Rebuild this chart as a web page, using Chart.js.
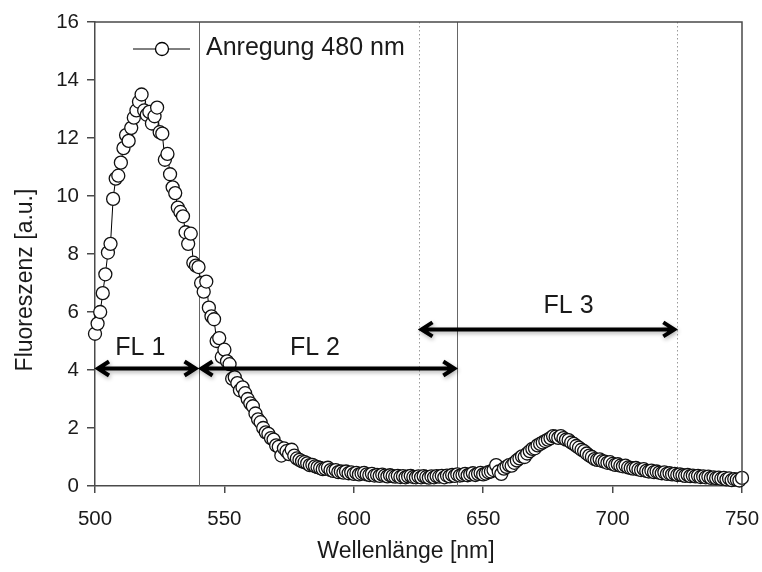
<!DOCTYPE html>
<html>
<head>
<meta charset="utf-8">
<script src="https://cdn.jsdelivr.net/npm/chart.js@4"></script>
<style>
  html, body { margin: 0; padding: 0; background: #fff; }
  #wrap { width: 762px; height: 572px; }
</style>
</head>
<body>
<div id="wrap"><canvas id="spectrum" width="762" height="572"></canvas></div>
<script>
// emission spectrum, excitation at 480 nm, one reading per nm
const wavelengths = [
  500, 501, 502, 503, 504, 505, 506, 507, 508, 509,
  510, 511, 512, 513, 514, 515, 516, 517, 518, 519,
  520, 521, 522, 523, 524, 525, 526, 527, 528, 529,
  530, 531, 532, 533, 534, 535, 536, 537, 538, 539,
  540, 541, 542, 543, 544, 545, 546, 547, 548, 549,
  550, 551, 552, 553, 554, 555, 556, 557, 558, 559,
  560, 561, 562, 563, 564, 565, 566, 567, 568, 569,
  570, 571, 572, 573, 574, 575, 576, 577, 578, 579,
  580, 581, 582, 583, 584, 585, 586, 587, 588, 589,
  590, 591, 592, 593, 594, 595, 596, 597, 598, 599,
  600, 601, 602, 603, 604, 605, 606, 607, 608, 609,
  610, 611, 612, 613, 614, 615, 616, 617, 618, 619,
  620, 621, 622, 623, 624, 625, 626, 627, 628, 629,
  630, 631, 632, 633, 634, 635, 636, 637, 638, 639,
  640, 641, 642, 643, 644, 645, 646, 647, 648, 649,
  650, 651, 652, 653, 654, 655, 656, 657, 658, 659,
  660, 661, 662, 663, 664, 665, 666, 667, 668, 669,
  670, 671, 672, 673, 674, 675, 676, 677, 678, 679,
  680, 681, 682, 683, 684, 685, 686, 687, 688, 689,
  690, 691, 692, 693, 694, 695, 696, 697, 698, 699,
  700, 701, 702, 703, 704, 705, 706, 707, 708, 709,
  710, 711, 712, 713, 714, 715, 716, 717, 718, 719,
  720, 721, 722, 723, 724, 725, 726, 727, 728, 729,
  730, 731, 732, 733, 734, 735, 736, 737, 738, 739,
  740, 741, 742, 743, 744, 745, 746, 747, 748, 749,
  750
];
const fluorescence = [
  5.25, 5.6, 6.0, 6.65, 7.3, 8.05, 8.35, 9.9, 10.6, 10.7,
  11.15, 11.65, 12.1, 11.9, 12.35, 12.7, 12.95, 13.25, 13.5, 12.95,
  12.8, 12.9, 12.5, 12.75, 13.05, 12.2, 12.15, 11.25, 11.45, 10.75,
  10.3, 10.1, 9.6, 9.45, 9.3, 8.75, 8.35, 8.7, 7.7, 7.6,
  7.55, 7.0, 6.7, 7.05, 6.15, 5.85, 5.75, 5.0, 5.1, 4.45,
  4.7, 4.3, 4.2, 3.7, 3.75, 3.55, 3.3, 3.4, 3.2, 3.0,
  2.85, 2.75, 2.5, 2.3, 2.2, 2.0, 1.85, 1.8, 1.65, 1.6,
  1.4, 1.35, 1.05, 1.3, 1.2, 1.1, 1.25, 1.05, 0.95, 0.9,
  0.85, 0.82, 0.78, 0.72, 0.73, 0.68, 0.65, 0.62, 0.58, 0.6,
  0.63, 0.55, 0.52, 0.55, 0.48, 0.5, 0.46, 0.5, 0.44, 0.47,
  0.42, 0.45, 0.4, 0.43, 0.45, 0.4, 0.38, 0.42, 0.36, 0.38,
  0.35, 0.39, 0.36, 0.33, 0.37, 0.34, 0.32, 0.35, 0.31, 0.34,
  0.3, 0.33, 0.35, 0.31, 0.3, 0.33, 0.3, 0.34, 0.31, 0.29,
  0.33, 0.3, 0.34, 0.32, 0.35, 0.3, 0.36, 0.33, 0.38, 0.35,
  0.4, 0.36, 0.38, 0.42, 0.37, 0.4, 0.44, 0.38, 0.42, 0.45,
  0.4, 0.43, 0.48, 0.5, 0.55, 0.72, 0.5, 0.42, 0.6, 0.66,
  0.72, 0.7, 0.8, 0.88, 0.95, 1.02, 1.0, 1.12, 1.2, 1.28,
  1.3, 1.4, 1.45, 1.5, 1.55, 1.6, 1.65, 1.72, 1.7, 1.66,
  1.72, 1.65, 1.6, 1.58, 1.5, 1.45, 1.38, 1.32, 1.25, 1.2,
  1.12, 1.05, 1.0, 0.93, 0.9, 0.92, 0.86, 0.84, 0.8, 0.82,
  0.76, 0.73, 0.75, 0.7, 0.68, 0.7, 0.64, 0.62, 0.6, 0.62,
  0.57, 0.55, 0.58, 0.52, 0.5, 0.53, 0.48, 0.5, 0.46, 0.44,
  0.47, 0.42, 0.44, 0.4, 0.42, 0.38, 0.4, 0.37, 0.35, 0.38,
  0.34, 0.36, 0.33, 0.35, 0.31, 0.33, 0.3, 0.32, 0.28, 0.3,
  0.27, 0.29, 0.25, 0.28, 0.23, 0.26, 0.2, 0.24, 0.22, 0.19,
  0.28
];

const xTicks = [500, 550, 600, 650, 700, 750];
const yTicks = [0, 2, 4, 6, 8, 10, 12, 14, 16];

// filter band edges (solid) and detection windows (dotted)
const solidEdges = [540, 640];
const dottedEdges = [625, 725];

// detection channels: arrow range, arrow height, label anchor
const bandNames = ['FL 1', 'FL 2', 'FL 3'];
const bandFrom = [500, 540, 625];
const bandTo = [540, 640, 725];
const bandLevel = [4.05, 4.05, 5.4];
const bandLabelX = [517.5, 585, 683];
const bandLabelY = [4.75, 4.75, 6.2];

const seriesName = 'Anregung 480 nm';
const xTitle = 'Wellenlänge [nm]';
const yTitle = 'Fluoreszenz [a.u.]';

const FONT = "'Liberation Sans', Arial, sans-serif";
const AXIS_COLOR = '#4a4a4a';
const TEXT_COLOR = '#1a1a1a';

function drawArrow(ctx, x1, x2, y) {
  const head = 11, spread = 7;
  ctx.beginPath();
  ctx.moveTo(x1, y);
  ctx.lineTo(x2, y);
  ctx.moveTo(x1 + head, y - spread);
  ctx.lineTo(x1, y);
  ctx.lineTo(x1 + head, y + spread);
  ctx.moveTo(x2 - head, y - spread);
  ctx.lineTo(x2, y);
  ctx.lineTo(x2 - head, y + spread);
  ctx.stroke();
}

const annotations = {
  id: 'annotations',
  beforeDatasetsDraw(chart) {
    const { ctx, chartArea: a, scales: { x } } = chart;
    ctx.save();
    ctx.lineWidth = 1;
    ctx.strokeStyle = '#666';
    solidEdges.forEach(v => {
      const px = Math.round(x.getPixelForValue(v)) + 0.5;
      ctx.beginPath();
      ctx.moveTo(px, a.top);
      ctx.lineTo(px, a.bottom);
      ctx.stroke();
    });
    ctx.strokeStyle = '#9a9a9a';
    ctx.setLineDash([1.5, 2.5]);
    dottedEdges.forEach(v => {
      const px = Math.round(x.getPixelForValue(v)) + 0.5;
      ctx.beginPath();
      ctx.moveTo(px, a.top);
      ctx.lineTo(px, a.bottom);
      ctx.stroke();
    });
    ctx.restore();
  },
  afterDatasetsDraw(chart) {
    const { ctx, chartArea: a, scales: { x, y } } = chart;
    ctx.save();

    // frame on top and right
    ctx.strokeStyle = AXIS_COLOR;
    ctx.lineWidth = 1.5;
    ctx.beginPath();
    ctx.moveTo(a.left, a.top);
    ctx.lineTo(a.right, a.top);
    ctx.lineTo(a.right, a.bottom);
    ctx.stroke();

    // channel arrows
    ctx.strokeStyle = '#000';
    ctx.lineWidth = 4;
    ctx.lineJoin = 'miter';
    ctx.shadowColor = 'rgba(0,0,0,0.3)';
    ctx.shadowBlur = 4;
    ctx.shadowOffsetX = 1;
    ctx.shadowOffsetY = 2;
    bandNames.forEach((name, i) => {
      const x1 = x.getPixelForValue(bandFrom[i]) + 3;
      const x2 = x.getPixelForValue(bandTo[i]) - 3;
      drawArrow(ctx, x1, x2, y.getPixelForValue(bandLevel[i]));
    });
    ctx.shadowColor = 'transparent';

    ctx.fillStyle = TEXT_COLOR;
    ctx.font = '25px ' + FONT;
    ctx.textAlign = 'center';
    ctx.textBaseline = 'middle';
    bandNames.forEach((name, i) => {
      ctx.fillText(name, x.getPixelForValue(bandLabelX[i]), y.getPixelForValue(bandLabelY[i]));
    });

    // legend entry: line with open circle
    const ly = a.top + 27;
    ctx.strokeStyle = '#000';
    ctx.lineWidth = 1;
    ctx.beginPath();
    ctx.moveTo(a.left + 38, ly);
    ctx.lineTo(a.left + 95, ly);
    ctx.stroke();
    ctx.beginPath();
    ctx.arc(a.left + 67, ly, 6.5, 0, Math.PI * 2);
    ctx.fillStyle = '#fff';
    ctx.fill();
    ctx.lineWidth = 1.3;
    ctx.stroke();
    ctx.fillStyle = TEXT_COLOR;
    ctx.textAlign = 'left';
    ctx.fillText(seriesName, a.left + 111, ly - 1);

    // axis titles
    ctx.font = '23px ' + FONT;
    ctx.textAlign = 'center';
    ctx.fillText(xTitle, 406, 552);
    ctx.translate(26, 280);
    ctx.rotate(-Math.PI / 2);
    ctx.fillText(yTitle, 0, 0);

    ctx.restore();
  }
};

new Chart(document.getElementById('spectrum'), {
  type: 'line',
  data: {
    datasets: [{
      label: seriesName,
      data: wavelengths.map((w, i) => ({ x: w, y: fluorescence[i] })),
      borderColor: '#000',
      borderWidth: 1,
      pointRadius: 6.5,
      pointBackgroundColor: '#fff',
      pointBorderColor: '#111',
      pointBorderWidth: 1.3,
      tension: 0,
      clip: false
    }]
  },
  options: {
    responsive: false,
    animation: false,
    devicePixelRatio: 1,
    layout: { padding: { top: 22, right: 20, left: 0, bottom: 0 } },
    plugins: {
      legend: { display: false },
      tooltip: { enabled: false }
    },
    scales: {
      x: {
        type: 'linear',
        min: 500,
        max: 750,
        afterBuildTicks: s => { s.ticks = xTicks.map(v => ({ value: v })); },
        afterFit: s => { s.height = 86; s.paddingLeft = 0; s.paddingRight = 0; },
        grid: { drawOnChartArea: false, drawTicks: true, tickLength: 7, color: AXIS_COLOR, lineWidth: 1.5 },
        border: { display: true, color: AXIS_COLOR, width: 1.5 },
        ticks: { color: TEXT_COLOR, font: { family: FONT, size: 20.5 }, padding: 14, maxRotation: 0 }
      },
      y: {
        min: 0,
        max: 16,
        afterBuildTicks: s => { s.ticks = yTicks.map(v => ({ value: v })); },
        afterFit: s => { s.width = 95; s.paddingTop = 0; s.paddingBottom = 0; },
        grid: { drawOnChartArea: false, drawTicks: true, tickLength: 8, color: AXIS_COLOR, lineWidth: 1.5 },
        border: { display: true, color: AXIS_COLOR, width: 1.5 },
        ticks: { color: TEXT_COLOR, font: { family: FONT, size: 20.5 }, padding: 8 }
      }
    }
  },
  plugins: [annotations]
});
</script>
</body>
</html>
